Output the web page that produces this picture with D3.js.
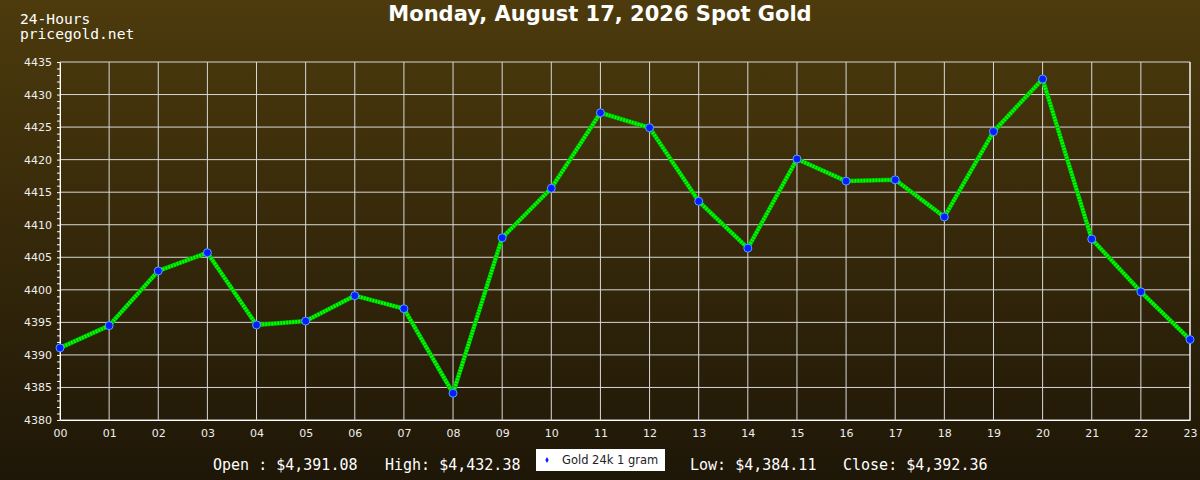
<!DOCTYPE html>
<html>
<head>
<meta charset="utf-8">
<script src="https://cdn.jsdelivr.net/npm/d3@7"></script>
<style>
  body { margin: 0; background: #1f1708; }
  svg { display: block; }
</style>
</head>
<body>
<svg id="chart" width="1200" height="480"></svg>
<script>
// hourly spot price
const hours = ["00","01","02","03","04","05","06","07","08","09","10","11",
               "12","13","14","15","16","17","18","19","20","21","22","23"];
const prices = [4391.08, 4394.5, 4402.9, 4405.7, 4394.6, 4395.2, 4399.1, 4397.1,
                4384.11, 4408.0, 4415.6, 4427.2, 4424.9, 4413.6, 4406.4, 4420.1,
                4416.7, 4416.9, 4411.2, 4424.3, 4432.38, 4407.8, 4399.7, 4392.36];
const yTicks = [4380, 4385, 4390, 4395, 4400, 4405, 4410, 4415, 4420, 4425, 4430, 4435];
const titleText = "Monday, August 17, 2026 Spot Gold";
const statsLeft = ["Open : $4,391.08", "High: $4,432.38"];
const statsRight = ["Low: $4,384.11", "Close: $4,392.36"];
const seriesName = "Gold 24k 1 gram";

const W = 1200, H = 480;
const margin = {top: 62, right: 10, bottom: 60, left: 60};
const width = W - margin.left - margin.right;
const height = H - margin.top - margin.bottom;

const svg = d3.select("#chart");

// background gradient
const defs = svg.append("defs");
const grad = defs.append("linearGradient")
    .attr("id", "bg").attr("x1", 0).attr("y1", 0).attr("x2", 0).attr("y2", 1);
grad.append("stop").attr("offset", "0%").attr("stop-color", "#4d3b0d");
grad.append("stop").attr("offset", "100%").attr("stop-color", "#1e1607");
svg.append("rect").attr("width", W).attr("height", H).attr("fill", "url(#bg)");

const x = d3.scalePoint().domain(hours).range([0, width]);
const y = d3.scaleLinear().domain([4380, 4435]).range([height, 0]);

const g = svg.append("g").attr("transform", `translate(${margin.left},${margin.top})`);

// grid
g.append("g").selectAll("line.h").data(yTicks).join("line")
    .attr("x1", 0).attr("x2", width)
    .attr("y1", d => y(d)).attr("y2", d => y(d))
    .attr("stroke", "#d8d8d8").attr("stroke-width", 1);
g.append("g").selectAll("line.v").data(hours).join("line")
    .attr("y1", 0).attr("y2", height)
    .attr("x1", d => x(d)).attr("x2", d => x(d))
    .attr("stroke", "#d8d8d8").attr("stroke-width", 1);

// y axis with unit minor ticks
const yAxis = d3.axisLeft(y).tickValues(d3.range(4380, 4436, 1))
    .tickSize(3).tickSizeOuter(0)
    .tickFormat(d => d % 5 === 0 ? d : "");
g.append("g").attr("class", "y-axis").call(yAxis)
  .call(a => {
    a.select(".domain").attr("stroke", "#ffffff");
    a.selectAll("line").attr("stroke", "#ffffff");
    a.selectAll("text").attr("fill", "#eeeeee").attr("font-family", "DejaVu Sans")
      .attr("font-size", 11).attr("x", -8);
  });

const xAxis = d3.axisBottom(x).tickSize(0).tickSizeOuter(0).tickPadding(9);
g.append("g").attr("transform", `translate(0,${height})`).call(xAxis)
  .call(a => {
    a.select(".domain").attr("stroke", "#ffffff");
    a.selectAll("text").attr("fill", "#eeeeee").attr("font-family", "DejaVu Sans")
      .attr("font-size", 11);
  });

// right border
g.append("line").attr("x1", width).attr("x2", width).attr("y1", 0).attr("y2", height)
    .attr("stroke", "#ffffff");

// line
const line = d3.line().x((d, i) => x(hours[i])).y(d => y(d));
g.append("path").datum(prices).attr("d", line)
    .attr("fill", "none").attr("stroke", "#00a800").attr("stroke-width", 4.5)
    .attr("stroke-linejoin", "round");
g.append("path").datum(prices).attr("d", line)
    .attr("fill", "none").attr("stroke", "#00ff00").attr("stroke-width", 3.5)
    .attr("stroke-dasharray", "2 1");

// markers
g.selectAll("circle.pt").data(prices).join("circle")
    .attr("cx", (d, i) => x(hours[i])).attr("cy", d => y(d))
    .attr("r", 4)
    .attr("fill", "#0a1cff").attr("stroke", "#4aa8ff").attr("stroke-width", 1);

// titles
svg.append("text").attr("x", 600).attr("y", 21).attr("text-anchor", "middle")
    .attr("font-family", "DejaVu Sans").attr("font-weight", "bold")
    .attr("font-size", 21).attr("fill", "#ffffff").text(titleText);
svg.append("text").attr("x", 20).attr("y", 24)
    .attr("font-family", "DejaVu Sans Mono").attr("font-size", 14.6)
    .attr("fill", "#ffffff").text("24-Hours");
svg.append("text").attr("x", 20).attr("y", 39)
    .attr("font-family", "DejaVu Sans Mono").attr("font-size", 14.6)
    .attr("fill", "#ffffff").text("pricegold.net");

// bottom stats and legend
const statStyle = s => s.attr("font-family", "DejaVu Sans Mono").attr("font-size", 15)
    .attr("fill", "#ffffff").attr("y", 470);
svg.append("text").attr("x", 213).call(statStyle).text(statsLeft[0]);
svg.append("text").attr("x", 385).call(statStyle).text(statsLeft[1]);
svg.append("text").attr("x", 690).call(statStyle).text(statsRight[0]);
svg.append("text").attr("x", 843).call(statStyle).text(statsRight[1]);

const leg = svg.append("g").attr("transform", "translate(536,449)");
leg.append("rect").attr("width", 129).attr("height", 22).attr("fill", "#ffffff");
leg.append("path").attr("d", d3.symbol(d3.symbolDiamond, 10)())
    .attr("transform", "translate(11,11)").attr("fill", "#0a1cff");
leg.append("text").attr("x", 26).attr("y", 15)
    .attr("font-family", "DejaVu Sans").attr("font-size", 11.5)
    .attr("fill", "#222222").text(seriesName);
</script>
</body>
</html>
